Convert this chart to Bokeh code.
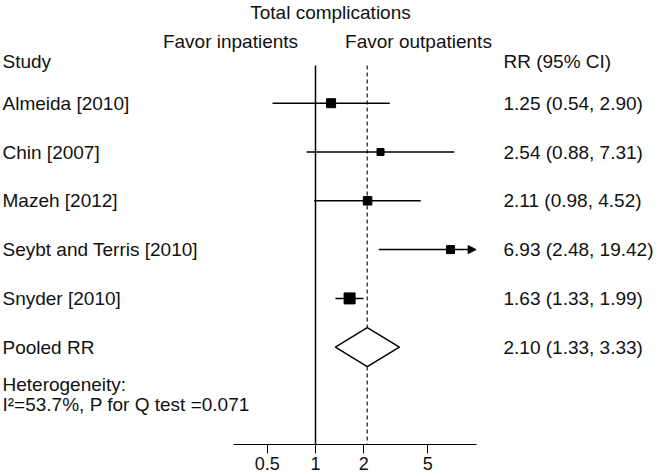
from bokeh.plotting import figure
from bokeh.models import (Range1d, LinearScale, ColumnDataSource,
                          FixedTicker, CustomJSTickFormatter, Arrow, NormalHead)
from bokeh.core.properties import value
from bokeh.embed import file_html
from bokeh.resources import INLINE

# ---- data ----
studies = ["Almeida [2010]", "Chin [2007]", "Mazeh [2012]", "Seybt and Terris [2010]", "Snyder [2010]"]
rr = [1.25, 2.54, 2.11, 6.93, 1.63]
ci_low = [0.54, 0.88, 0.98, 2.48, 1.33]
ci_high = [2.90, 7.31, 4.52, 19.42, 1.99]
weights = [0.9, 0.7, 0.85, 0.8, 1.1]
pooled_label = "Pooled RR"
pooled_rr = 2.10
pooled_low = 1.33
pooled_high = 3.33
x_ticks = [0.5, 1, 2, 5]
axis_min, axis_max = 0.31, 10.1
arrow_cap = 10
title_text = "Total complications"
favor_left = "Favor inpatients"
favor_right = "Favor outpatients"
het_line1 = "Heterogeneity:"
het_line2 = "I\u00b2=53.7%, P for Q test =0.071"

FONT = "Liberation Sans"
FS = "19px"
TXT = "#111111"

n = len(studies)
rows = list(range(n))
pooled_row = n

# layout (canvas pixels)
W, H = 656, 475
AXIS_H = 31
frame_bottom = H - AXIS_H
row0_px, row_step = 102.7, 48.8
x1_px, px_per_log2 = 315.0, 48.35

def px_to_row(yp):
    return (yp - row0_px) / row_step
def px_to_x(xp):
    return 2 ** ((xp - x1_px) / px_per_log2)

y_bottom = px_to_row(frame_bottom)
y_top = px_to_row(0)
line_top = px_to_row(65)

p = figure(width=W, height=H, x_axis_type="log",
           x_range=Range1d(px_to_x(0), px_to_x(W)),
           y_range=Range1d(y_bottom, y_top),
           output_backend="svg", toolbar_location=None, y_axis_location=None,
           min_border_left=0, min_border_right=0, min_border_top=0, min_border_bottom=AXIS_H)
p.outline_line_color = None
p.xgrid.visible = False
p.ygrid.visible = False
p.background_fill_color = "white"
p.border_fill_color = "white"

# helper ranges in canvas-pixel units for text placement
p.extra_x_ranges = {"px": Range1d(0, W)}
p.extra_x_scales = {"px": LinearScale()}
p.extra_y_ranges = {"py": Range1d(frame_bottom, 0)}
p.extra_y_scales = {"py": LinearScale()}

# axis
ax = p.xaxis[0]
ax.bounds = (axis_min, axis_max)
ax.ticker = FixedTicker(ticks=x_ticks, minor_ticks=[])
ax.formatter = CustomJSTickFormatter(code="return tick.toString();")
ax.major_label_text_font = FONT
ax.major_label_text_font_size = "18px"
ax.major_label_text_color = TXT
ax.axis_line_color = "black"
ax.axis_line_width = 1
ax.major_tick_line_color = "black"
ax.major_tick_out = 9
ax.major_tick_in = 0
ax.minor_tick_out = 0
ax.minor_tick_in = 0
ax.major_label_standoff = 3
ax.axis_label_standoff = 0

# reference lines
p.segment(x0=1, y0=line_top, x1=1, y1=y_bottom, line_color="black", line_width=1.5)
p.segment(x0=pooled_rr, y0=line_top, x1=pooled_rr, y1=y_bottom, line_color="#444444",
          line_width=1.5, line_dash="4 3")

# CI lines
for i in rows:
    hi = ci_high[i]
    if hi > axis_max:
        p.add_layout(Arrow(end=NormalHead(size=8, fill_color="black", line_color="black"),
                           x_start=ci_low[i], y_start=i, x_end=arrow_cap, y_end=i,
                           line_color="black", line_width=1.5))
    else:
        p.segment(x0=ci_low[i], y0=i, x1=hi, y1=i, line_color="black", line_width=1.5)

src = ColumnDataSource(dict(x=rr, y=rows, size=[10 * w for w in weights]))
p.scatter(x="x", y="y", size="size", source=src, marker="square",
          fill_color="black", line_color="black")

# pooled diamond
p.patch(x=[pooled_low, pooled_rr, pooled_high, pooled_rr],
        y=[pooled_row, pooled_row - 0.4, pooled_row, pooled_row + 0.4],
        fill_color="white", line_color="black", line_width=1.5)

# text columns
labels_all = studies + [pooled_label]
vals_all = [f"{a:.2f} ({b:.2f}, {c:.2f})" for a, b, c in zip(rr, ci_low, ci_high)] + \
           [f"{pooled_rr:.2f} ({pooled_low:.2f}, {pooled_high:.2f})"]
tsrc = ColumnDataSource(dict(y=rows + [pooled_row], name=labels_all, val=vals_all,
                             xl=[2] * (n + 1), xr=[503] * (n + 1)))
txt_kw = dict(text_font=value(FONT), text_font_size=value(FS), text_color=TXT,
              text_baseline="middle")
p.text(x="xl", y="y", text="name", source=tsrc, x_range_name="px", text_align="left", **txt_kw)
p.text(x="xr", y="y", text="val", source=tsrc, x_range_name="px", text_align="left", **txt_kw)

hdr = ColumnDataSource(dict(
    text=[title_text, favor_left, favor_right, "Study", "RR (95% CI)", het_line1, het_line2],
    x=[330, 230, 418, 2, 503, 2, 2],
    y=[12, 41, 41, 61, 61, 384, 404],
    align=["center", "center", "center", "left", "left", "left", "left"]))
p.text(x="x", y="y", text="text", text_align="align", source=hdr,
       x_range_name="px", y_range_name="py", **txt_kw)

open("out.html", "w").write(file_html(p, INLINE))
